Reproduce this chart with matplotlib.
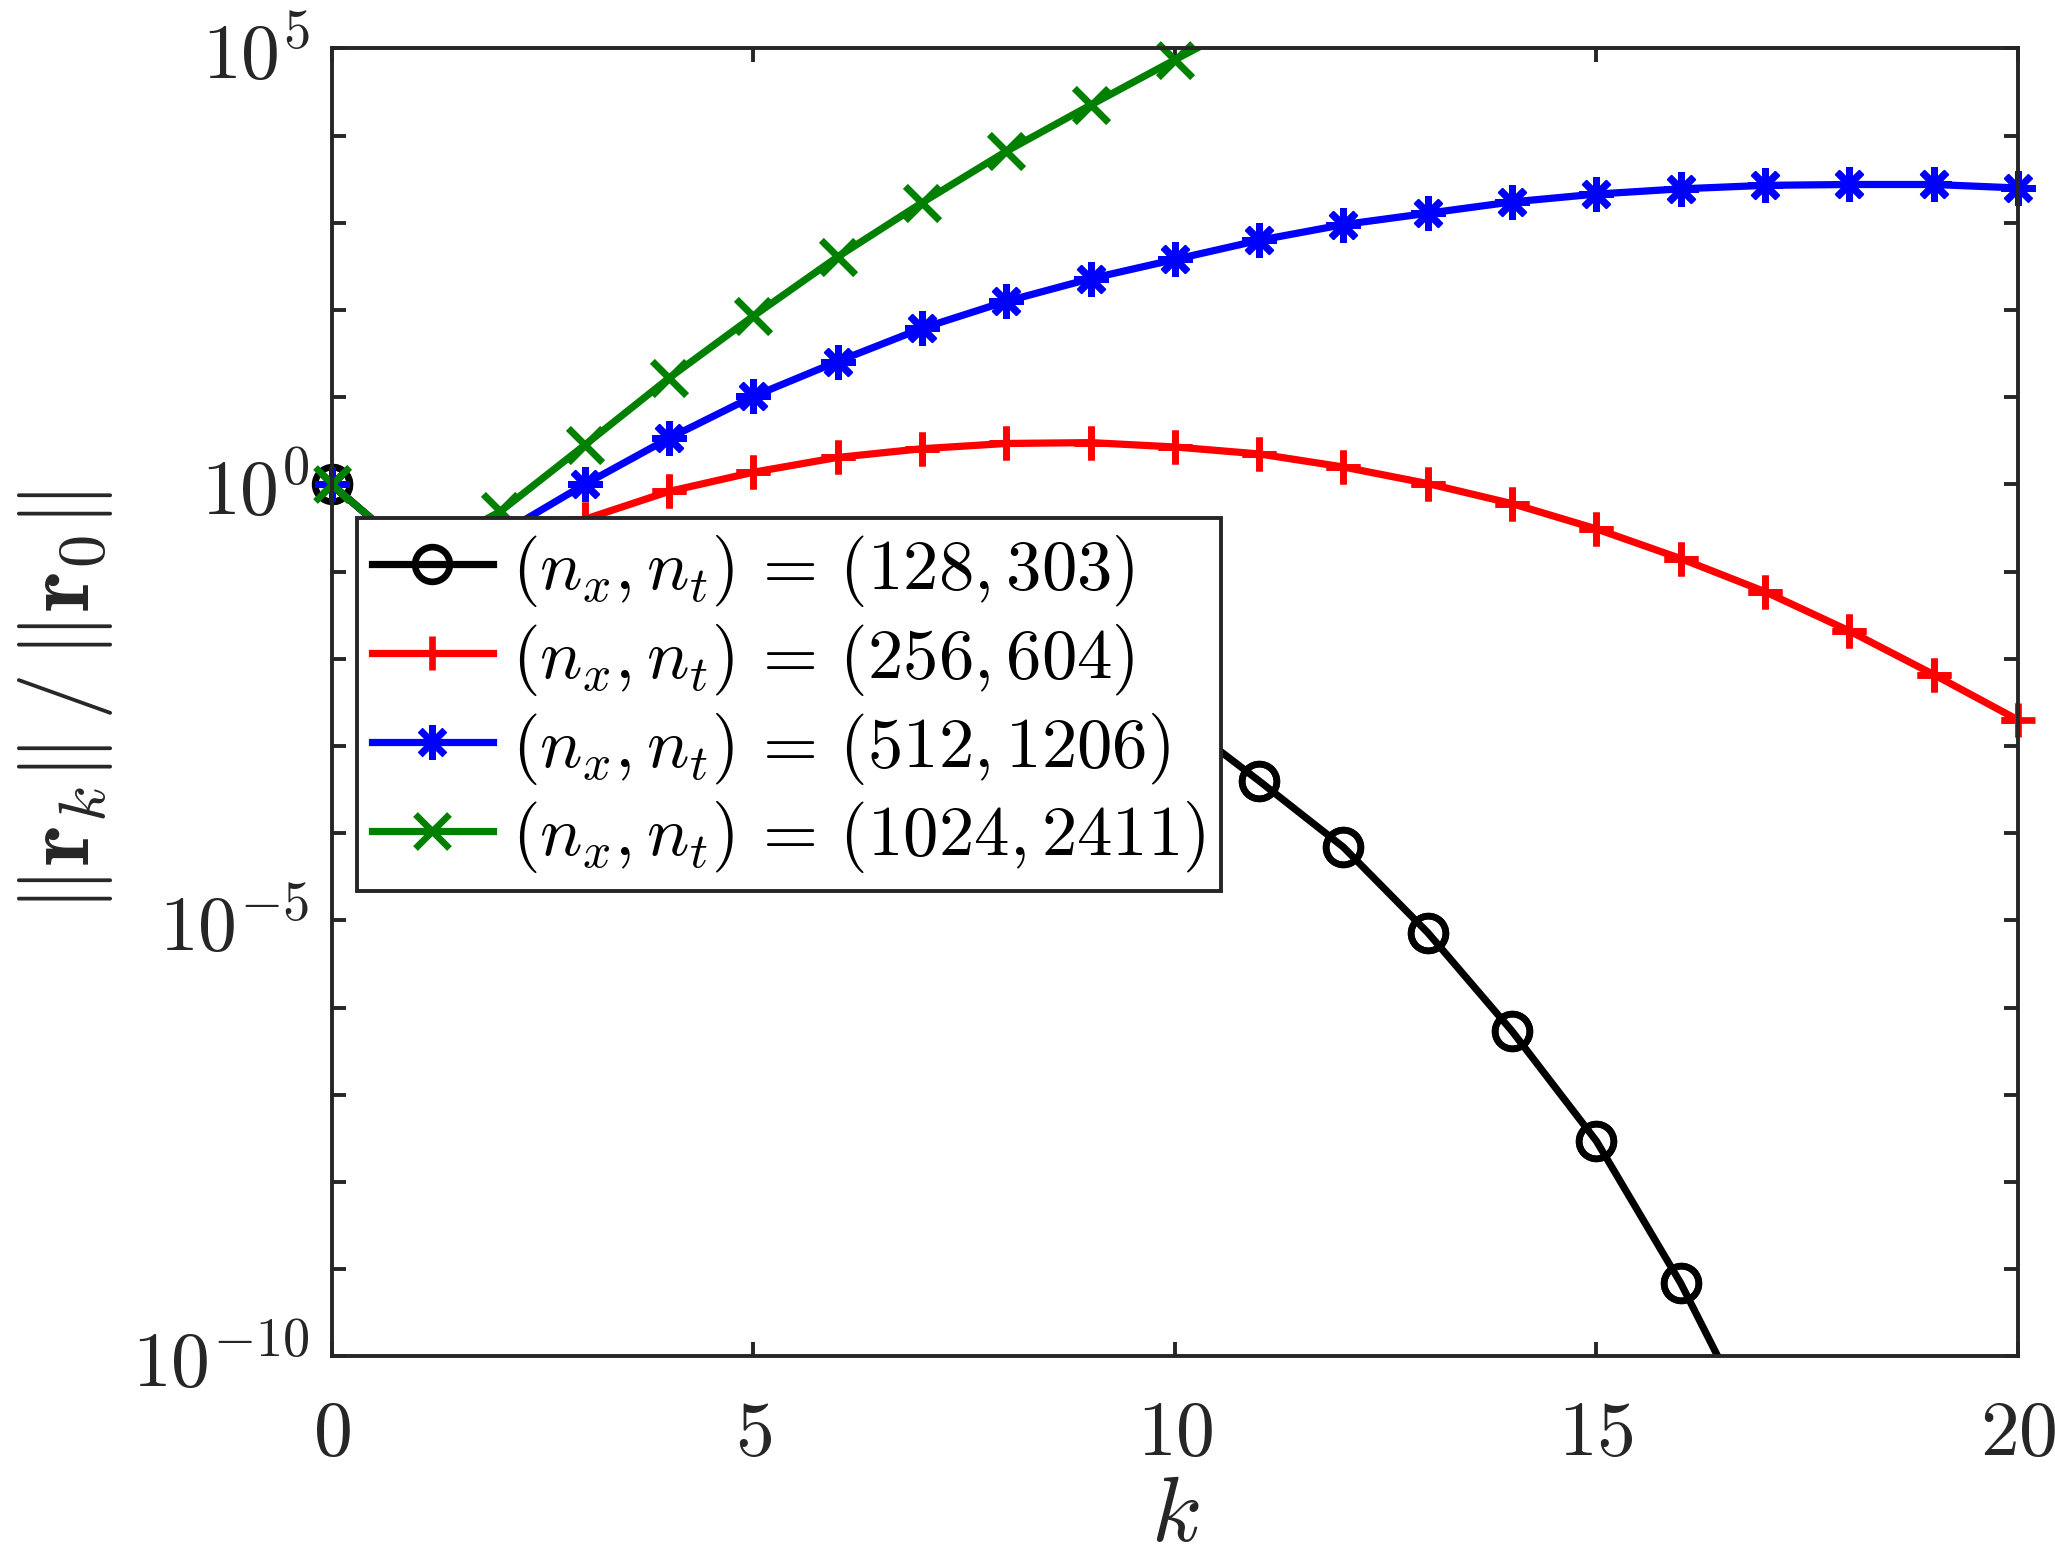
import numpy as np
import matplotlib
matplotlib.use("Agg")
import matplotlib.pyplot as plt
from matplotlib.ticker import FixedLocator, FuncFormatter

plt.rcParams["mathtext.fontset"] = "cm"
plt.rcParams["font.family"] = "serif"
plt.rcParams["font.serif"] = ["DejaVu Serif"]

# residual history, log10(||r_k|| / ||r_0||)
k_128 = list(range(18))
log_res_128 = [0, -0.83, -1.2, -1.42, -1.6, -1.77, -1.95, -2.12, -2.3, -2.48,
               -2.66, -3.40, -4.16, -5.14, -6.27, -7.53, -9.16, -11.07]

k_256 = list(range(21))
log_res_256 = [0, -0.83, -0.6, -0.40, -0.08, 0.14, 0.31, 0.41, 0.47, 0.48,
               0.43, 0.35, 0.20, 0.01, -0.22, -0.51, -0.85, -1.23, -1.68,
               -2.18, -2.70]

k_512 = list(range(21))
log_res_512 = [0, -0.83, -0.57, 0.0, 0.53, 1.01, 1.41, 1.79, 2.10, 2.36,
               2.58, 2.80, 2.98, 3.11, 3.24, 3.33, 3.39, 3.43, 3.44, 3.44, 3.40]

k_1024 = list(range(12))
log_res_1024 = [0, -0.83, -0.31, 0.45, 1.22, 1.93, 2.61, 3.23, 3.82, 4.35,
                4.87, 5.38]

labels = [
    r"$(n_x,n_t) \,=\, (128,303)$",
    r"$(n_x,n_t) \,=\, (256,604)$",
    r"$(n_x,n_t) \,=\, (512,1206)$",
    r"$(n_x,n_t) \,=\, (1024,2411)$",
]

series = [
    (k_128, log_res_128, "black", "o"),
    (k_256, log_res_256, "red", "+"),
    (k_512, log_res_512, "blue", (8, 2, 0)),
    (k_1024, log_res_1024, "green", "x"),
]

axis_color = "#262626"

fig = plt.figure(figsize=(10.275, 7.84), dpi=200)
ax = fig.add_axes([0.1614, 0.1349, 0.8206, 0.8342])

handles = []
for (k, logv, color, marker), label in zip(series, labels):
    k = np.array(k)
    v = 10.0 ** np.array(logv)
    mfc = "none" if marker == "o" else color
    (h,) = ax.plot(k, v, color=color, lw=2.6, marker=marker, ms=12.5,
                   mew=2.4, mfc=mfc, label=label)
    inside = (v >= 1e-10) & (v <= 1e5)
    ax.plot(k[inside], v[inside], ls="none", color=color, marker=marker,
            ms=12.5, mew=2.4, mfc=mfc, clip_on=False)
    handles.append(h)

ax.set_yscale("log")
ax.set_xlim(0, 20)
ax.set_ylim(1e-10, 1e5)

ax.xaxis.set_major_locator(FixedLocator([0, 5, 10, 15, 20]))
ax.xaxis.set_major_formatter(FuncFormatter(lambda x, p: r"$%d$" % x))
ax.yaxis.set_major_locator(FixedLocator([10.0 ** e for e in range(-10, 6)]))
ax.yaxis.set_minor_locator(FixedLocator([]))


def decade_label(y, pos):
    e = int(round(np.log10(y)))
    return r"$10^{%d}$" % e if e % 5 == 0 else ""


ax.yaxis.set_major_formatter(FuncFormatter(decade_label))

ax.tick_params(axis="both", which="major", direction="in", length=5,
               width=1.4, color=axis_color, labelcolor=axis_color,
               labelsize=28, top=True, right=True)
ax.tick_params(axis="x", pad=14)
ax.tick_params(axis="y", pad=8)
for s in ax.spines.values():
    s.set_linewidth(1.4)
    s.set_color(axis_color)

ax.set_xlabel(r"$k$", fontsize=33, color=axis_color, labelpad=0)
ax.set_ylabel(r"$\|\mathbf{r}_k\| \, / \, \|\mathbf{r}_0\|$", fontsize=34,
              color=axis_color, labelpad=6)

leg = ax.legend(handles=handles, loc="upper left",
                bbox_to_anchor=(0.0148, 0.6413), borderaxespad=0,
                fontsize=25.5, handlelength=1.7, handletextpad=0.28,
                borderpad=0.22, labelspacing=0.18, fancybox=False,
                framealpha=1, edgecolor=axis_color)
leg.get_frame().set_linewidth(1.4)

fig.savefig("out.png", dpi=200)
